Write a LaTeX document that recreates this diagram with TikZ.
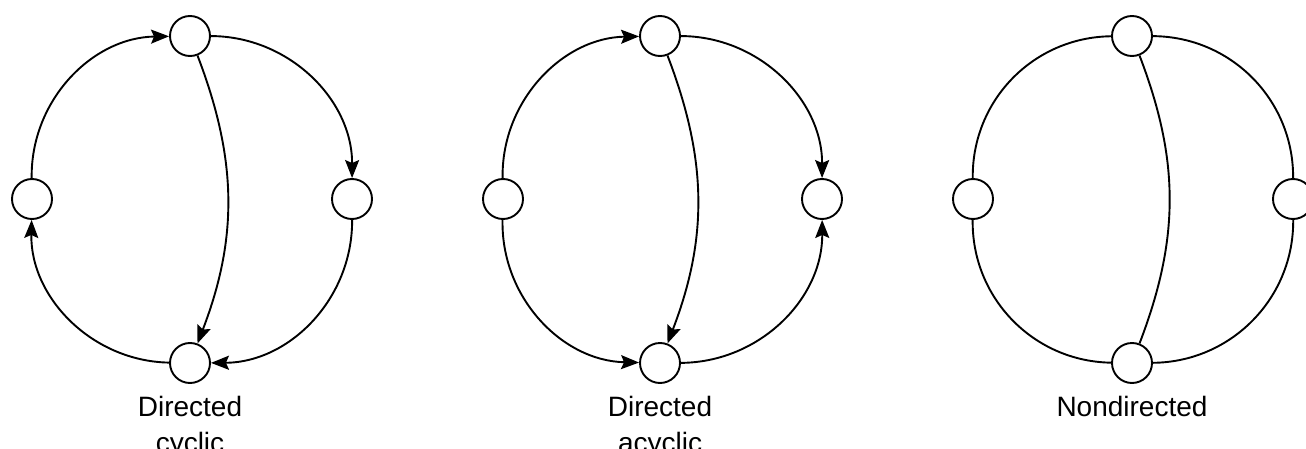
\documentclass[tikz,border=0pt]{standalone}
\usepackage{fontspec}
\setmainfont{Liberation Sans}
\usetikzlibrary{arrows.meta, positioning}

\begin{document}
\begin{tikzpicture}[
    x=1pt, y=1pt,
    vertex/.style={circle, draw, line width=1.9pt, minimum size=40pt, inner sep=0pt},
    edge/.style={line width=1.9pt},
    arrow/.style={edge, -{Stealth[length=18pt, width=14pt, inset=3pt]}},
    caption/.style={align=center, font=\fontsize{28}{36}\selectfont, inner sep=0pt}
]
    \useasboundingbox (0,0) rectangle (1306,448);

    % gerichteter zyklischer Graph
    \node[vertex] (cTop) at (190,412) {};
    \node[vertex] (cLeft) at (32,249) {};
    \node[vertex] (cRight) at (352,249) {};
    \node[vertex] (cBot) at (190,85) {};
    \node[caption, below=12pt of cBot] (cLabel) {Directed\\cyclic};

    \draw[arrow] (cLeft) to[bend left=45] (cTop);
    \draw[arrow] (cTop) to[bend left=45] (cRight);
    \draw[arrow] (cTop) to[bend left=21] (cBot);
    \draw[arrow] (cRight) to[bend left=45] (cBot);
    \draw[arrow] (cBot) to[bend left=45] (cLeft);

    % gerichteter azyklischer Graph
    \node[vertex] (aTop) at (660,412) {};
    \node[vertex] (aLeft) at (503,249) {};
    \node[vertex] (aRight) at (822,249) {};
    \node[vertex] (aBot) at (660,85) {};
    \node[caption, below=12pt of aBot] (aLabel) {Directed\\acyclic};

    \draw[arrow] (aLeft) to[bend left=45] (aTop);
    \draw[arrow] (aTop) to[bend left=45] (aRight);
    \draw[arrow] (aTop) to[bend left=21] (aBot);
    \draw[arrow] (aLeft) to[bend right=45] (aBot);
    \draw[arrow] (aBot) to[bend right=45] (aRight);

    % ungerichteter Graph
    \node[vertex] (nTop) at (1132,412) {};
    \node[vertex] (nLeft) at (973,249) {};
    \node[vertex] (nRight) at (1293,249) {};
    \node[vertex] (nBot) at (1132,85) {};
    \node[caption, below=12pt of nBot] (nLabel) {Nondirected};

    \draw[edge] (nLeft) to[bend left=45] (nTop);
    \draw[edge] (nTop) to[bend left=45] (nRight);
    \draw[edge] (nTop) to[bend left=21] (nBot);
    \draw[edge] (nRight) to[bend left=45] (nBot);
    \draw[edge] (nBot) to[bend left=45] (nLeft);
\end{tikzpicture}
\end{document}
